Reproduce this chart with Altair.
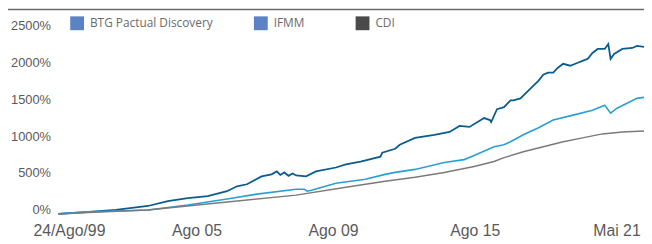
import altair as alt
import pandas as pd

# ---- data (x = position along the period, 0..100; y = cumulative return in %) ----
btg_t = [0, 5.2, 9.8, 15.3, 18.7, 22.1, 25.5, 28.8, 30.5, 32.2, 34.7, 36.4, 37.3, 37.9, 38.6, 39.3,
         40.0, 40.6, 42.3, 44.0, 47.4, 49.1, 51.6, 55.0, 55.3, 57.5, 58.3, 60.9, 64.2, 66.8, 68.5,
         70.2, 72.7, 73.7, 73.9, 74.9, 76.1, 77.2, 77.7, 78.9, 80.3, 82.0, 82.8, 83.6, 84.5, 85.3,
         86.2, 87.4, 88.7, 89.5, 90.4, 91.2, 92.1, 93.3, 93.9, 94.3, 94.9, 96.3, 98.0, 98.8, 100]
btg_v = [0, 27, 53, 107, 174, 214, 241, 307, 374, 401, 508, 535, 575, 528, 561, 515,
         548, 521, 508, 575, 628, 669, 709, 775, 829, 882, 936, 1029, 1070, 1110, 1190,
         1177, 1297, 1270, 1244, 1417, 1444, 1538, 1538, 1564, 1671, 1805, 1885, 1912, 1912, 1979,
         2032, 2006, 2046, 2072, 2099, 2179, 2233, 2233, 2300, 2099, 2166, 2233, 2246, 2273, 2260]

ifmm_t = [0, 5.2, 9.8, 15.3, 22.1, 28.8, 33.9, 40.6, 42.0, 42.5, 43.2, 47.4, 52.4, 55.8, 57.5,
          60.9, 65.9, 69.3, 71.0, 74.4, 76.1, 77.2, 79.4, 81.9, 84.5, 87.9, 91.2, 93.3, 94.3,
          95.4, 97.1, 98.8, 100]
ifmm_v = [0, 27, 40, 53, 120, 201, 267, 334, 334, 307, 321, 415, 468, 535, 562,
          602, 695, 735, 789, 909, 936, 976, 1070, 1163, 1270, 1337, 1404, 1471, 1364,
          1431, 1497, 1564, 1578]

cdi_t = [0, 6.9, 15.3, 28.8, 40.6, 49.1, 55.8, 60.9, 65.9, 71.0, 74.4, 76.1, 79.4, 82.8,
         86.2, 89.5, 92.9, 96.3, 100]
cdi_v = [0, 27, 53, 160, 254, 361, 441, 495, 561, 642, 709, 762, 842, 909,
         976, 1029, 1083, 1110, 1123]

series_names = ["BTG Pactual Discovery", "IFMM", "CDI"]
line_colors = ["#0b5c8e", "#2b9fd3", "#7a7a7a"]
legend_colors = ["#5b82c4", "#5b82c4", "#4a4a4a"]

x_tick_pos = [1.8, 23.6, 46.9, 71.1, 95.3]
x_tick_labels = ["24/Ago/99", "Ago 05", "Ago 09", "Ago 15", "Mai 21"]
y_ticks = [0, 500, 1000, 1500, 2000, 2500]

# ---- build table ----
rows = []
for name, ts, vs in zip(series_names, [btg_t, ifmm_t, cdi_t], [btg_v, ifmm_v, cdi_v]):
    for t, v in zip(ts, vs):
        rows.append({"serie": name, "t": t, "v": v})
df = pd.DataFrame(rows)

label_map = "{" + ",".join(f"'{p}':'{l}'" for p, l in zip(x_tick_pos, x_tick_labels)) + "}"

W, H = 593, 187

lines = alt.Chart(df).mark_line(interpolate="linear").encode(
    x=alt.X("t:Q", scale=alt.Scale(domain=[0, 100], nice=False, zero=False),
            axis=alt.Axis(values=x_tick_pos, labelExpr=f"{label_map}[''+datum.value]",
                          grid=False, domain=False, ticks=False, labelPadding=9,
                          labelFont="Liberation Sans", labelFontSize=16, labelColor="#5a5a5a",
                          title=None, labelOverlap=False, labelFlush=False)),
    y=alt.Y("v:Q", scale=alt.Scale(domain=[0, 2500], nice=False),
            axis=alt.Axis(values=y_ticks, labelExpr="datum.value + '%'",
                          grid=False, domain=False, ticks=False, labelPadding=8,
                          labelBaseline="alphabetic",
                          labelFont="Liberation Sans", labelFontSize=13, labelColor="#5a5a5a",
                          title=None)),
    color=alt.Color("serie:N", scale=alt.Scale(domain=series_names, range=line_colors), legend=None),
    strokeWidth=alt.StrokeWidth("serie:N", scale=alt.Scale(domain=series_names, range=[1.8, 1.5, 1.1]),
                                legend=None),
    order=alt.Order("t:Q"),
)

top_rule = alt.Chart(pd.DataFrame({"a": [0]})).mark_rule(color="#6a6a6a", strokeWidth=1.5).encode(
    x=alt.value(-53), x2=alt.value(W), y=alt.value(-20)
)

legend_sq_x = [19, 205, 308]
legend_layers = []
for name, col, sx in zip(series_names, legend_colors, legend_sq_x):
    d = pd.DataFrame({"label": [name]})
    sq = alt.Chart(d).mark_square(size=196, color=col, opacity=1).encode(
        x=alt.value(sx), y=alt.value(-6))
    tx = alt.Chart(d).mark_text(align="left", baseline="middle", font="Open Sans", fontSize=12,
                                color="#6b6b6b").encode(
        x=alt.value(sx + 13), y=alt.value(-6), text="label:N")
    legend_layers += [sq, tx]

chart = alt.layer(lines, top_rule, *legend_layers).properties(
    width=W, height=H,
    autosize=alt.AutoSizeParams(type="none"),
    padding={"left": 51, "top": 20, "right": 0, "bottom": 29},
).configure_view(stroke=None)

chart.save("out.html", embed_options={"renderer": "svg", "actions": False})
